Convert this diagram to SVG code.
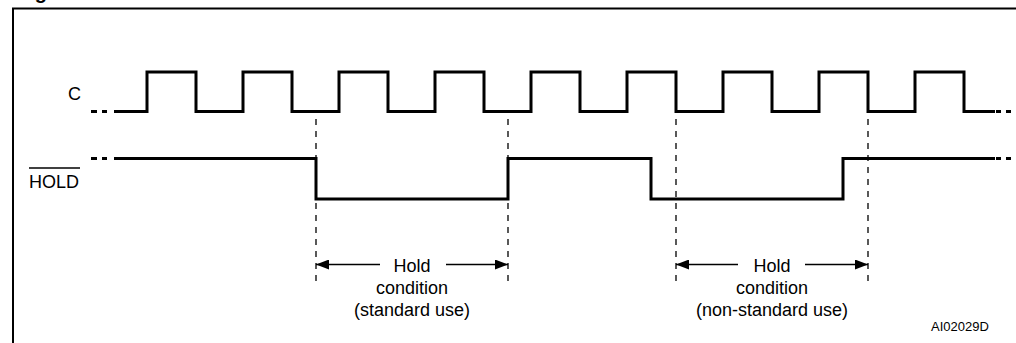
<svg xmlns="http://www.w3.org/2000/svg" width="1016" height="343" viewBox="0 0 1016 343">
  <style>
    .sig { fill: none; stroke: #000; stroke-width: 3; stroke-linejoin: miter; stroke-linecap: butt; }
    .dash { fill: none; stroke: #000; stroke-width: 1.3; stroke-dasharray: 6 6; }
    .arr { fill: none; stroke: #000; stroke-width: 1.5; }
    .lbl { font-family: "Liberation Sans", Arial, sans-serif; font-size: 18px; fill: #000; }
    .note { font-family: "Liberation Sans", Arial, sans-serif; font-size: 13px; fill: #000; }
  </style>
  <defs>
    <marker id="ah" markerUnits="userSpaceOnUse" markerWidth="14" markerHeight="10" refX="13" refY="5" orient="auto-start-reverse">
      <path d="M0,0 L13,5 L0,10 Z" fill="#000"/>
    </marker>
  </defs>
  <rect x="0" y="0" width="1016" height="343" fill="#fff"/>
  <text x="17" y="-1" font-family="Liberation Sans, Arial, sans-serif" font-size="20" font-weight="bold">Figure</text>
  <rect id="frame" x="13" y="8.5" width="1012" height="345" fill="none" stroke="#000" stroke-width="2"/>

  <g id="signal-c">
    <text class="lbl" x="81" y="100" text-anchor="end">C</text>
    <path class="sig" d="M91,111.5 H97 M102,111.5 H107"/>
    <path class="sig" d="M114,111.5 H147 V72 H196 V111.5 H243 V72 H292 V111.5 H339 V72 H388 V111.5 H435 V72 H484 V111.5 H531 V72 H580 V111.5 H627 V72 H676 V111.5 H723 V72 H772 V111.5 H819 V72 H868 V111.5 H915 V72 H964 V111.5 H995"/>
    <path class="sig" d="M996,111.5 H1001 M1006,111.5 H1011"/>
  </g>

  <g id="signal-hold">
    <text class="lbl" x="29" y="188">HOLD</text>
    <line x1="29" y1="168" x2="80" y2="168" stroke="#000" stroke-width="1.3"/>
    <path class="sig" d="M91,158.5 H97 M102,158.5 H107"/>
    <path class="sig" d="M114,158.5 H316 V199 H508 V158.5 H651 V199 H843 V158.5 H995"/>
    <path class="sig" d="M996,158.5 H1001 M1006,158.5 H1011"/>
  </g>

  <g id="connectors">
    <line class="dash" x1="316" y1="119" x2="316" y2="284"/>
    <line class="dash" x1="508" y1="119" x2="508" y2="284"/>
    <line class="dash" x1="676" y1="119" x2="676" y2="284"/>
    <line class="dash" x1="868" y1="119" x2="868" y2="284"/>
    <line class="arr" x1="380" y1="264.5" x2="316" y2="264.5" marker-end="url(#ah)"/>
    <line class="arr" x1="446" y1="264.5" x2="508" y2="264.5" marker-end="url(#ah)"/>
    <line class="arr" x1="738" y1="264.5" x2="676" y2="264.5" marker-end="url(#ah)"/>
    <line class="arr" x1="805" y1="264.5" x2="868" y2="264.5" marker-end="url(#ah)"/>
  </g>

  <g id="hold-standard">
    <text class="lbl" x="412" y="272" text-anchor="middle">Hold</text>
    <text class="lbl" x="412" y="294" text-anchor="middle">condition</text>
    <text class="lbl" x="412" y="316" text-anchor="middle">(standard use)</text>
  </g>

  <g id="hold-nonstandard">
    <text class="lbl" x="772" y="272" text-anchor="middle">Hold</text>
    <text class="lbl" x="772" y="294" text-anchor="middle">condition</text>
    <text class="lbl" x="772" y="316" text-anchor="middle">(non-standard use)</text>
  </g>

  <g id="ref-code">
    <text class="note" x="931" y="331">AI02029D</text>
  </g>
</svg>
